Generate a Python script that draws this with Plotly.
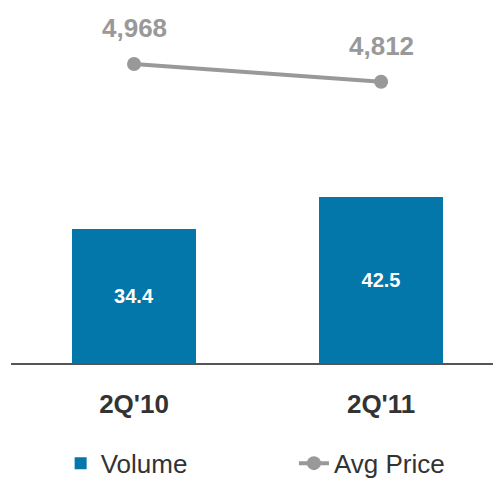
import plotly.graph_objects as go

categories = ["2Q'10", "2Q'11"]
volume = [34.4, 42.5]
avg_price = [4968, 4812]
volume_labels = ["34.4", "42.5"]
price_labels = ["4,968", "4,812"]

BAR = "#0376AA"
GRAY = "#999999"
FONT = "Arial, Liberation Sans"

fig = go.Figure()
fig.add_trace(go.Bar(
    x=[0, 1], y=volume, name="Volume", marker=dict(color=BAR, line=dict(width=0)),
    width=0.502, text=volume_labels, textposition="inside", insidetextanchor="middle",
    textfont=dict(family=FONT, size=20, color="white", weight="bold"),
    textangle=0, cliponaxis=False, legend="legend",
))
fig.add_trace(go.Scatter(
    x=[0, 1], y=avg_price, name="Avg Price", yaxis="y2", mode="lines+markers",
    line=dict(color=GRAY, width=4), marker=dict(color=GRAY, size=14), legend="legend2",
))
for i, (v, t) in enumerate(zip(avg_price, price_labels)):
    fig.add_annotation(x=i, y=v, yref="y2", text=t, showarrow=False, yshift=36,
                       font=dict(family=FONT, size=26, color=GRAY, weight="bold"))

legend_common = dict(orientation="h", yanchor="middle", y=-0.284, xanchor="left",
                     font=dict(family=FONT, size=26, color="#333333"),
                     bgcolor="rgba(0,0,0,0)")

fig.update_layout(
    width=493, height=482, margin=dict(l=11, r=0, t=10, b=119, autoexpand=False),
    paper_bgcolor="white", plot_bgcolor="white",
    bargap=0,
    xaxis=dict(range=[-0.498, 1.453], tickvals=[0, 1], ticktext=categories,
               showgrid=False, zeroline=False, showline=True, linecolor="#555555", linewidth=2,
               ticks="", ticklabelstandoff=17,
               tickfont=dict(family=FONT, size=26, color="#333333", weight="bold")),
    yaxis=dict(range=[0, 90.6], visible=False, showgrid=False),
    yaxis2=dict(range=[2334, 5444], overlaying="y", visible=False, showgrid=False),
    showlegend=True,
    legend=dict(x=0.103, **legend_common),
    legend2=dict(x=0.587, **legend_common),
)

fig.write_html("out.html")
